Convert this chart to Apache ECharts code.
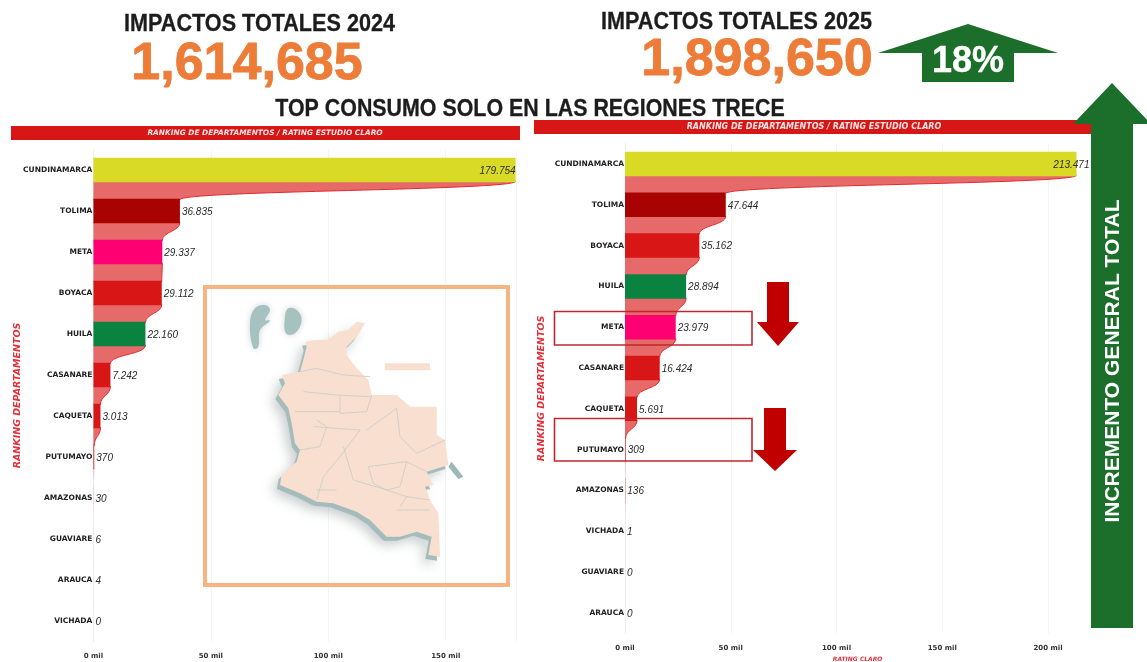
<!DOCTYPE html>
<html><head><meta charset="utf-8">
<style>html,body{margin:0;padding:0;background:#fff}#c{width:1147px;height:662px;filter:blur(0.55px)}</style>
<script src="https://cdn.jsdelivr.net/npm/echarts@6/dist/echarts.min.js"></script>
</head><body><div id="c"></div>
<script>
// ---- data ----
const departments2024 = ['CUNDINAMARCA','TOLIMA','META','BOYACA','HUILA','CASANARE','CAQUETA','PUTUMAYO','AMAZONAS','GUAVIARE','ARAUCA','VICHADA'];
const impacts2024 = [179754,36835,29337,29112,22160,7242,3013,370,30,6,4,0];
const departments2025 = ['CUNDINAMARCA','TOLIMA','BOYACA','HUILA','META','CASANARE','CAQUETA','PUTUMAYO','AMAZONAS','VICHADA','GUAVIARE','ARAUCA'];
const impacts2025 = [213471,47644,35162,28894,23979,16424,5691,309,136,1,0,0];
const total2024 = '1,614,685';
const total2025 = '1,898,650';
const increase = '18%';
// ---- styles ----
const deptColors = {CUNDINAMARCA:'#d9da26',TOLIMA:'#a80202',META:'#ff0072',HUILA:'#0b8340'};
const barRed = '#d81616', ribbon = '#e76a6a', ribbonEdge = '#e02a2e';
const ORANGE = '#ec7c38', GREEN = '#1c6f2a', DARKRED = '#c00000', INK = '#2b2b2b';
const thousands = v => String(v).replace(/\B(?=(\d{3})+$)/g, '.');

function ribbonSeries(values, ax){
  const rows = values.slice(0,-1).map((v,i)=>[v,values[i+1],i]);
  return {type:'custom',xAxisIndex:ax,yAxisIndex:ax,z:1,silent:true,encode:{x:[0,1],y:2},data:rows,
    renderItem(params,api){
      const a=api.coord([api.value(0),api.value(2)]), b=api.coord([api.value(1),api.value(2)+1]);
      const z=api.coord([0,api.value(2)])[0], half=12.3;
      const y0=a[1]+half-1, y1=b[1]-half+1, m=(y0+y1)/2;
      const curve=`M${a[0]} ${y0}C${a[0]} ${m} ${b[0]} ${m} ${b[0]} ${y1}`;
      const kids=[{type:'path',shape:{pathData:curve+`L${z} ${y1}L${z} ${y0}Z`},style:{fill:api.value(0)<1000?'#f0b4b8':ribbon}}];
      if(api.value(0)>=1000) kids.push({type:'path',shape:{pathData:curve},style:{fill:null,stroke:ribbonEdge,lineWidth:1}});
      return {type:'group',children:kids};
    }};
}
function barSeries(names,values,ax,firstOffset){
  return {type:'bar',xAxisIndex:ax,yAxisIndex:ax,z:2,barWidth:24.5,
    data:values.map((v,i)=>({value:v,itemStyle:{color:deptColors[names[i]]||barRed},
      label:i===0?{position:'insideRight',distance:0,offset:[firstOffset,1]}:{position:'right',distance:2,offset:[0,1]}})),
    label:{show:true,formatter:p=>thousands(p.value),fontFamily:'Liberation Sans',fontStyle:'italic',fontSize:10,color:INK}};
}
function xAxis(ax,max,name){
  return {type:'value',gridIndex:ax,min:0,max,interval:50000,
    name,nameLocation:'middle',nameGap:23,nameTextStyle:{color:'#e0303a',fontSize:6,fontStyle:'italic',fontWeight:'bold',fontFamily:'DejaVu Sans'},
    axisLine:{show:false},axisTick:{show:false},splitLine:{lineStyle:{color:'#f4f4f4'}},
    axisLabel:{margin:11,showMaxLabel:false,color:'#333',fontSize:7,fontWeight:'bold',fontFamily:'DejaVu Sans',formatter:v=>(v/1000)+' mil'}};
}
function yAxis(ax,names,gap){
  return {type:'category',gridIndex:ax,inverse:true,data:names,
    name:'RANKING DEPARTAMENTOS',nameLocation:'middle',nameGap:gap,nameRotate:90,nameMoveOverlap:false,
    nameTextStyle:{color:'#e0303a',fontSize:9.5,fontStyle:'italic',fontWeight:'bold',fontFamily:'DejaVu Sans'},
    axisLine:{lineStyle:{color:'#eeeeee'}},axisTick:{show:false},
    axisLabel:{margin:1,color:'#222',fontSize:7.5,fontWeight:'bold',fontFamily:'DejaVu Sans'}};
}
const sans='Liberation Sans';
function txt(x,y,text,size,color,opt,el){
  return Object.assign({type:'text',x,y,z:20,silent:true,style:Object.assign({text,fill:color,font:`bold ${size}px "${sans}"`,textAlign:'center',textVerticalAlign:'middle'},opt||{})},el||{});
}
function box(x,y,w,h,color,lw){return {type:'rect',z:20,silent:true,shape:{x,y,width:w,height:h},style:{fill:lw?null:color,stroke:lw?color:null,lineWidth:lw||0}};}
function poly(pts,fill,z,extra,smooth){return {type:'polygon',z:z||20,silent:true,shape:{points:pts,smooth:smooth||0},style:Object.assign({fill},extra||{})};}
function arrowUp(cx,tip,wy,wing,shaft,bottom,c,z){return poly([[cx,tip],[cx+wing,wy],[cx+shaft,wy],[cx+shaft,bottom],[cx-shaft,bottom],[cx-shaft,wy],[cx-wing,wy]],c,z);}
function arrowDown(cx,top,wy,wing,shaft,tip,c){return poly([[cx-shaft,top],[cx+shaft,top],[cx+shaft,wy],[cx+wing,wy],[cx,tip],[cx-wing,wy],[cx-shaft,wy]],c);}
// decorative map, in page pixels from the map box origin (zoomed thirds)
const m=p=>p.map(([x,y])=>[200+x/3,280+y/3]);
const mapOutline=[[495,130],[470,125],[445,150],[415,155],[385,180],[345,180],[315,185],[320,200],[310,240],[300,275],[245,285],[255,310],[235,345],[265,385],[275,430],[285,490],[300,510],[290,545],[245,585],[240,615],[300,640],[350,665],[400,670],[470,695],[510,720],[560,770],[600,770],[650,755],[695,770],[685,825],[720,830],[715,700],[690,660],[675,620],[700,615],[680,575],[745,555],[735,480],[710,465],[710,380],[630,380],[590,345],[515,345],[505,300],[470,265],[440,225],[440,200],[470,170]];
const mapLines=[[[300,275],[350,265],[430,285],[510,290]],[[310,335],[410,345],[510,350]],[[420,345],[420,400],[500,395],[515,345]],[[285,395],[420,395]],[[340,440],[480,450]],[[500,450],[590,385]],[[590,385],[600,470],[650,520],[735,480]],[[430,500],[460,600],[560,630],[620,650],[690,660]],[[505,560],[620,545],[680,575]],[[370,590],[420,530],[480,450]],[[300,510],[360,500],[380,440],[350,420]],[[370,590],[350,660]],[[600,680],[620,650]],[[505,560],[520,610],[560,630]],[[620,545],[600,620],[560,630]],[[590,690],[690,690]],[[350,630],[410,630]]];
const mapGraphics=[
  poly(m(mapOutline).map(([x,y])=>[x-3,y+4]),'#a4bcbc',3,{shadowBlur:12,shadowColor:'rgba(120,130,130,.4)',shadowOffsetX:-4,shadowOffsetY:4}),
  poly(m(mapOutline),'#f9dfd0',4),
  ...mapLines.map(l=>({type:'polyline',z:5,silent:true,shape:{points:m(l)},style:{stroke:'#c4cdc6',lineWidth:.8,fill:null}})),
  poly(m([[165,85],[195,75],[210,90],[195,120],[210,122],[180,150],[175,200],[160,205],[150,130]]),'#a5c2c0',4,{shadowBlur:6,shadowColor:'rgba(120,130,130,.35)'},0.4),
  poly(m([[265,85],[290,90],[305,120],[285,160],[258,160],[255,110]]),'#a5c2c0',4,{shadowBlur:6,shadowColor:'rgba(120,130,130,.35)'},0.4),
  box(200+555/3,280+250/3,45,7,'#f9dfd0'),
  poly(m([[755,545],[790,590],[775,597],[745,560]]),'#9db8b8',4)
];
const heavy=(c,w)=>({stroke:c,lineWidth:w});

const option={
  animation:false,backgroundColor:'#fff',
  grid:[{left:93.4,top:149.5,width:422.8,height:492,outerBoundsMode:'none'},{left:625,top:143.6,width:465.3,height:489.6,outerBoundsMode:'none'}],
  xAxis:[xAxis(0,180000,''),xAxis(1,220000,'RATING CLARO')],
  yAxis:[yAxis(0,departments2024,71),yAxis(1,departments2025,78)],
  series:[ribbonSeries(impacts2024,0),barSeries(departments2024,impacts2024,0,0),
          ribbonSeries(impacts2025,1),barSeries(departments2025,impacts2025,1,13)],
  graphic:{elements:[
    txt(259.5,24,'IMPACTOS TOTALES 2024',24,'#1c1c1c',heavy('#1c1c1c',.3),{scaleX:.9}),
    txt(736.5,22,'IMPACTOS TOTALES 2025',24,'#1c1c1c',heavy('#1c1c1c',.3),{scaleX:.9}),
    txt(247,65,total2024,52,ORANGE,heavy(ORANGE,.8)),
    txt(757,61,total2025,52,ORANGE,heavy(ORANGE,.8)),
    arrowUp(968,24,53,90,46,82,GREEN),
    txt(968,62,increase,36,'#fff',heavy('#fff',.4)),
    txt(530,110,'TOP CONSUMO SOLO EN LAS REGIONES TRECE',23,'#1c1c1c',heavy('#1c1c1c',.3),{scaleX:.93}),
    box(11,126,509,14,barRed),
    txt(265,133,'RANKING DE DEPARTAMENTOS / RATING ESTUDIO CLARO',7,'#f6e6e6',{font:'italic bold 7.4px "DejaVu Sans"'}),
    box(534,120,557,14,barRed),
    txt(814,127,'RANKING DE DEPARTAMENTOS / RATING ESTUDIO CLARO',8,'#f6e6e6',{font:'italic bold 8px "DejaVu Sans"'}),
    arrowUp(1112,83,124,39,21,628,GREEN,21),
    txt(1113,361,'INCREMENTO GENERAL TOTAL',21,'#fff',null,{z:22,rotation:Math.PI/2}),
    box(554.5,311.5,197.5,33.5,'#c0272d',1.6),
    box(554.5,418.5,197.5,42.5,'#c0272d',1.6),
    arrowDown(778,282,322,21,11,346,DARKRED),
    arrowDown(775,408,450,22,11,471,DARKRED),
    box(205,287,303,298,'#f6b482',4),
    ...mapGraphics
  ]}
};
echarts.init(document.getElementById('c'),null,{renderer:'canvas'}).setOption(option);
</script></body></html>
